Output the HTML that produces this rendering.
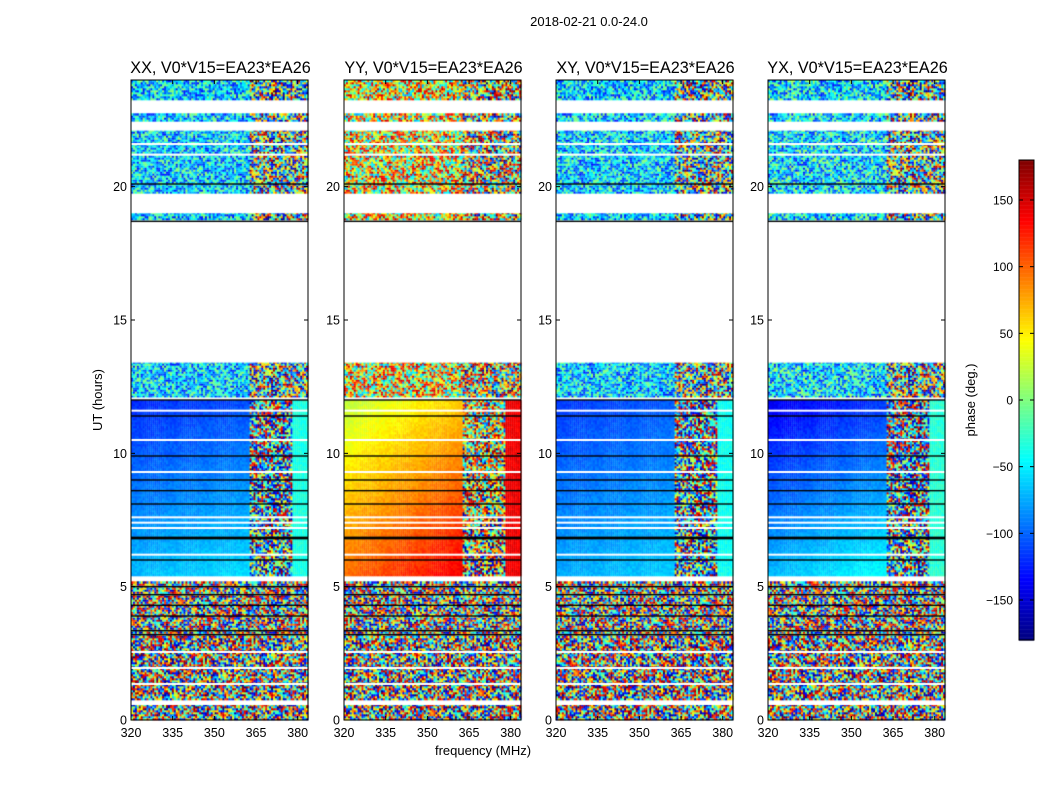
<!DOCTYPE html>
<html><head><meta charset="utf-8"><style>
body{margin:0;background:#fff;width:1050px;height:800px;overflow:hidden;position:relative;font-family:"Liberation Sans",sans-serif}
canvas,svg{position:absolute;left:0;top:0}
</style></head><body>
<canvas id="cv" width="1050" height="800"></canvas>
<svg id="sv" width="1050" height="800"></svg>
<script>
// ---- data ----
const panelTitles = ["XX, V0*V15=EA23*EA26","YY, V0*V15=EA23*EA26","XY, V0*V15=EA23*EA26","YX, V0*V15=EA23*EA26"];
const xTicks = [320,335,350,365,380];
const yTicks = [0,5,10,15,20];
const cbTicks = [150,100,50,0,-50,-100,-150];
// segments: [startHour, endHour, kind]  n=noise low, u=noise upper, s=smooth
const segments = [[0,0.56,"n"],[0.75,3.1,"n"],[3.1,5.2,"n"],[5.4,12.0,"s"],[12.1,13.4,"u"],[18.75,19.0,"u"],[19.75,22.1,"u"],[22.45,22.75,"u"],[23.25,24,"u"]];
const whiteLines = [1.35,1.95,2.55,12.05,21.2,21.6,22.2,6.2,7.2,7.4,7.6,9.3,10.5,11.6];
const blackLines = [3.2,3.35,3.9,4.3,4.7,5.0,6.0,6.8,6.85,8.1,8.6,9.0,9.9,11.4,12.0,18.7,20.1];
// smooth region phase (deg) at 12h and at 5.5h per panel, freq slope per MHz, right-column value
const smoothTop = [-120, 20, -115, -140];
const smoothBot = [-70, 95, -75, -70];
const freqSlope = [0.3, 1.0, 0.3, 0.6];
const rightCol = [-35, 140, -40, -30];
// upper-noise centers/spreads per panel
const upCenter = [-60, 40, -60, -55];
const upSpread = [70, 120, 70, 75];
const noiseTable = [12,-85,47,96,-33,-71,5,88,-54,23,-98,66,-17,39,-62,81,-8,-44,73,-91,30,-26,57,-79,94,-3,-67,18,52,-38,85,-13,-95,41,-58,69,-21,7,-83,34,99,-49,-6,61,-74,27,-31,78,-88,15,45,-64,2,90,-41,-19,70,-97,36,-52,83,-10,-76,21,58,-35,93,-1,-69,48,-23,75,-86,11,-46,64,-15,87,-60,29,-93,53,-28,4,80,-57,37,-81,97,-12,-39,66,-72,25,-4,59,-99];
// ---- layout ----
const px0 = [131,344,556,768], pw = 177, pTop = 80, pBot = 720;
const fMin = 320, fMax = 383.7, tMax = 24;
function xs(p,f){return px0[p]+(f-fMin)*pw/(fMax-fMin);}
function ys(t){return pBot-(t/tMax)*(pBot-pTop);}
function jet(v){
  let x=(v+180)/360; x=Math.max(0,Math.min(1,x));
  const r=Math.min(Math.max(Math.min(4*x-1.5,-4*x+4.5),0),1);
  const g=Math.min(Math.max(Math.min(4*x-0.5,-4*x+3.5),0),1);
  const b=Math.min(Math.max(Math.min(4*x+0.5,-4*x+2.5),0),1);
  return `rgb(${r*255|0},${g*255|0},${b*255|0})`;
}
function wrap(v){while(v>180)v-=360;while(v<-180)v+=360;return v;}
const cv=document.getElementById('cv'),ctx=cv.getContext('2d');
const df=0.7, dt=0.075;
for(let p=0;p<4;p++){
  for(const seg of segments){
    for(let t=seg[0];t<seg[1]-1e-6;t+=dt){
      const t2=Math.min(t+dt,seg[1]);
      const r=Math.round(t/dt);
      for(let f=fMin,c=0;f<fMax;f+=df,c++){
        const nz=noiseTable[(r*31+c*7+p*13+((r*c)%5))%noiseTable.length];
        let v;
        if(seg[2]==="n"){ v=nz*1.8; }
        else if(seg[2]==="u"){ v=f>362? upCenter[p]+nz*1.6 : upCenter[p]+upSpread[p]*nz/100; }
        else {
          const base=smoothBot[p]+(smoothTop[p]-smoothBot[p])*(t-5.5)/6.5;
          if(f>=378) v=rightCol[p]+nz*0.1;
          else if(f>=362) v=base+nz*1.5;
          else v=base+freqSlope[p]*(f-fMin)+nz*0.08;
        }
        ctx.fillStyle=jet(wrap(v));
        const x1=xs(p,f),x2=xs(p,Math.min(f+df,fMax));
        ctx.fillRect(x1,ys(t2),x2-x1+0.3,ys(t)-ys(t2)+0.3);
      }
    }
  }
  for(const w of whiteLines){ctx.fillStyle="#fff";ctx.fillRect(px0[p],ys(w)-1,pw,2);}
  for(const b of blackLines){ctx.fillStyle="#000";ctx.fillRect(px0[p],ys(b)-0.7,pw,1.4);}
}
const cbX=1019,cbW=15,cbTop=160,cbBot=640;
function cbY(v){return cbBot-(v+180)/360*(cbBot-cbTop);}
for(let v=-180;v<180;v+=1){ctx.fillStyle=jet(v+0.5);ctx.fillRect(cbX,cbY(v+1),cbW,cbY(v)-cbY(v+1)+0.5);}
const sv=document.getElementById('sv');const NS="http://www.w3.org/2000/svg";
function mk(tag,attrs,txt){const e=document.createElementNS(NS,tag);for(const k in attrs)e.setAttribute(k,attrs[k]);if(txt!==undefined)e.textContent=txt;sv.appendChild(e);return e;}
for(let p=0;p<4;p++){
  const fr=mk('rect',{x:px0[p],y:pTop,width:pw,height:pBot-pTop,fill:'none',stroke:'#000','stroke-width':1});
  
  const tt=mk('text',{x:px0[p]+pw/2+1,y:pTop-7,'text-anchor':'middle','font-size':16.2},panelTitles[p]);
  
  for(const f of xTicks){
    const x=xs(p,f);
    mk('line',{x1:x,x2:x,y1:pBot,y2:pBot-4,stroke:'#000'});mk('line',{x1:x,x2:x,y1:pTop,y2:pTop+4,stroke:'#000'});
    const l=mk('text',{x:x,y:pBot+17,'text-anchor':'middle','font-size':12.5},String(f));
    
  }
  for(const t of yTicks){
    const y=ys(t);
    mk('line',{x1:px0[p],x2:px0[p]+4,y1:y,y2:y,stroke:'#000'});mk('line',{x1:px0[p]+pw-4,x2:px0[p]+pw,y1:y,y2:y,stroke:'#000'});
    const l=mk('text',{x:px0[p]-4,y:y+4.5,'text-anchor':'end','font-size':12.5},String(t));
    
  }
}
const cf=mk('rect',{x:cbX,y:cbTop,width:cbW,height:cbBot-cbTop,fill:'none',stroke:'#000'});

for(const v of cbTicks){
  const y=cbY(v);
  mk('line',{x1:cbX,x2:cbX+4,y1:y,y2:y,stroke:'#000'});mk('line',{x1:cbX+cbW-4,x2:cbX+cbW,y1:y,y2:y,stroke:'#000'});
  const l=mk('text',{x:cbX-6,y:y+4.5,'text-anchor':'end','font-size':12},String(v).replace('-','\u2212'));
  
}
const st=mk('text',{x:589,y:26,'text-anchor':'middle','font-size':13},"2018-02-21 0.0-24.0");

const xl=mk('text',{x:483,y:755,'text-anchor':'middle','font-size':13},"frequency (MHz)");

const yl=mk('text',{x:102,y:400,'text-anchor':'middle','font-size':13,transform:'rotate(-90 102 400)'},"UT (hours)");

const cl=mk('text',{x:975,y:400,'text-anchor':'middle','font-size':13,transform:'rotate(-90 975 400)'},"phase (deg.)");

</script>
</body></html>
